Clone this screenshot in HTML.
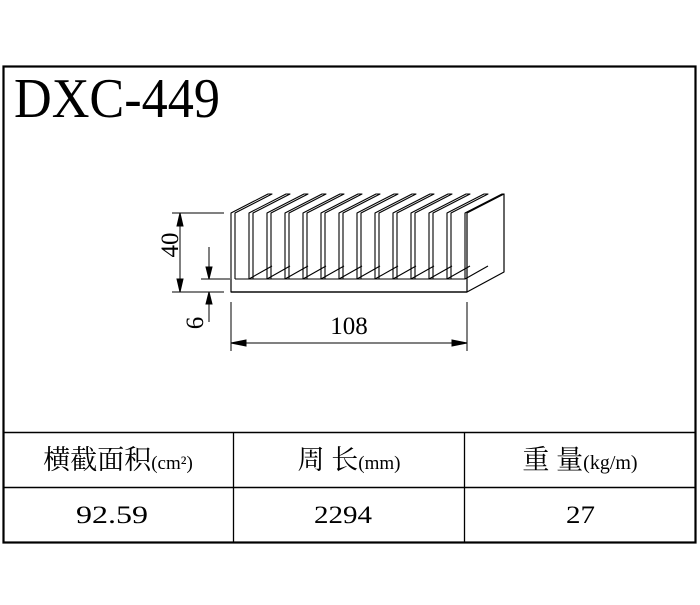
<!DOCTYPE html>
<html><head><meta charset="utf-8"><style>html,body{margin:0;padding:0;background:#fff}svg{display:block}</style></head>
<body>
<svg width="700" height="605" viewBox="0 0 700 605" xmlns="http://www.w3.org/2000/svg" font-family="'Liberation Serif','Noto Serif CJK SC',serif">
<rect width="700" height="605" fill="#fff"/>
<g stroke="#000" fill="none">
<rect x="3.5" y="66.5" width="692" height="476" stroke-width="2.2"/>
<line x1="3" y1="432.5" x2="696" y2="432.5" stroke-width="1.6"/>
<line x1="3" y1="487.5" x2="696" y2="487.5" stroke-width="1.4"/>
<line x1="233.5" y1="432" x2="233.5" y2="543" stroke-width="1.3"/>
<line x1="464.5" y1="432" x2="464.5" y2="543" stroke-width="1.3"/>
</g>
<text x="14" y="117" font-size="56" textLength="206" lengthAdjust="spacingAndGlyphs">DXC-449</text>
<g stroke="#000" stroke-width="1.2" fill="none" stroke-linejoin="round">
<polygon points="231,292 467,292 504,272 504,194 467,213 467,292"/>
<line x1="231" y1="279" x2="231" y2="292"/>
<line x1="231" y1="292" x2="467" y2="292"/>
</g>
<g stroke="#000" stroke-width="1.1" fill="none" stroke-linejoin="round">
<g id="fins">
<path d="M231,279 V213 L268,194 L272,194 L235,213 V279 M235,279 L249,279 L272,266"/>
</g>
<use href="#fins" x="18"/><use href="#fins" x="36"/><use href="#fins" x="54"/><use href="#fins" x="72"/>
<use href="#fins" x="90"/><use href="#fins" x="108"/><use href="#fins" x="126"/><use href="#fins" x="144"/>
<use href="#fins" x="162"/><use href="#fins" x="180"/><use href="#fins" x="198"/><use href="#fins" x="216"/>
<line x1="235" y1="279" x2="465" y2="279"/>
<path d="M465,279 V213 L502,194 L504,194"/>
</g>
<g stroke="#000" stroke-width="1" fill="#000">
<line x1="172" y1="213" x2="224" y2="213"/>
<line x1="172" y1="292" x2="224" y2="292"/>
<line x1="180" y1="215" x2="180" y2="290"/>
<polygon points="180,213 177,226 183,226"/>
<polygon points="180,292 177,279 183,279"/>
<line x1="201" y1="279" x2="230" y2="279"/>
<line x1="209" y1="247" x2="209" y2="277"/>
<polygon points="209,279 206,267 212,267"/>
<line x1="209" y1="294" x2="209" y2="322"/>
<polygon points="209,292 206,304 212,304"/>
<line x1="231" y1="302" x2="231" y2="351"/>
<line x1="467" y1="302" x2="467" y2="351"/>
<line x1="233" y1="343" x2="465" y2="343"/>
<polygon points="231,343 246,340 246,346"/>
<polygon points="467,343 452,340 452,346"/>
</g>
<text x="349" y="334" font-size="25" text-anchor="middle">108</text>
<text transform="translate(178,245) rotate(-90)" font-size="25" text-anchor="middle">40</text>
<text transform="translate(203,323) rotate(-90)" font-size="25" text-anchor="middle">6</text>
<g font-size="27" text-anchor="middle">
<text x="118" y="469">横截面积<tspan font-size="19">(cm²)</tspan></text>
<text x="349" y="469">周 长<tspan font-size="19">(mm)</tspan></text>
<text x="580" y="469">重 量<tspan font-size="20">(kg/m)</tspan></text>
</g>
<g font-size="25">
<text x="76" y="523" textLength="72" lengthAdjust="spacingAndGlyphs">92.59</text>
<text x="314" y="523" textLength="58" lengthAdjust="spacingAndGlyphs">2294</text>
<text x="566" y="523" textLength="29" lengthAdjust="spacingAndGlyphs">27</text>
</g>
</svg>
</body></html>
